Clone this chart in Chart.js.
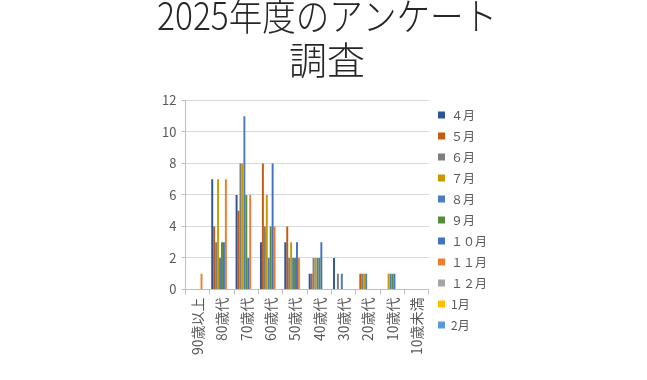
<!DOCTYPE html>
<html>
<head>
<meta charset="utf-8">
<script src="https://cdn.jsdelivr.net/npm/chart.js@4.4.1/dist/chart.umd.min.js"></script>
<style>
  html, body { margin: 0; padding: 0; background: #ffffff; }
  #wrap { position: relative; width: 647px; height: 380px; overflow: hidden; }
  canvas { display: block; }
</style>
</head>
<body>
<div id="wrap"><canvas id="c" width="647" height="380"></canvas></div>
<script>
const titleLines = ['2025年度のアンケート', '調査'];
const categories = ['90歳以上', '80歳代', '70歳代', '60歳代', '50歳代', '40歳代', '30歳代', '20歳代', '10歳代', '10歳未満'];
const seriesNames = ['４月', '５月', '６月', '７月', '８月', '９月', '１０月', '１１月', '１２月', '1月', '2月'];
const seriesColors = ['#2f5597', '#c55a11', '#7f7f7f', '#c99a00', '#4a7ebb', '#588b3c', '#4472c4', '#ed7d31', '#a5a5a5', '#ffc000', '#5b9bd5'];
const apr = [0, 7, 6, 3, 3, 1, 2, 0, 0, 0];
const may = [0, 4, 5, 8, 4, 1, 0, 1, 0, 0];
const jun = [0, 3, 8, 4, 2, 2, 1, 1, 0, 0];
const jul = [0, 7, 8, 6, 3, 2, 0, 1, 1, 0];
const aug = [0, 2, 11, 2, 2, 2, 1, 1, 1, 0];
const sep = [0, 3, 6, 4, 2, 2, 0, 0, 1, 0];
const oct = [0, 3, 2, 8, 3, 3, 0, 0, 1, 0];
const nov = [1, 7, 6, 4, 2, 0, 0, 0, 0, 0];
const dec = [0, 0, 0, 0, 0, 0, 0, 0, 0, 0];
const jan = [0, 0, 0, 0, 0, 0, 0, 0, 0, 0];
const feb = [0, 0, 0, 0, 0, 0, 0, 0, 0, 0];
const seriesValues = [apr, may, jun, jul, aug, sep, oct, nov, dec, jan, feb];
const yTicks = [0, 2, 4, 6, 8, 10, 12];

const FONT = "'Noto Sans CJK JP', 'Noto Sans', sans-serif";

const datasets = seriesNames.map((name, i) => ({
  label: name,
  data: seriesValues[i],
  backgroundColor: seriesColors[i],
  borderWidth: 0,
  categoryPercentage: 0.88,
  barPercentage: 1.0
}));

new Chart(document.getElementById('c'), {
  type: 'bar',
  data: { labels: categories, datasets: datasets },
  options: {
    responsive: false,
    animation: false,
    devicePixelRatio: 1,
    layout: { padding: { top: -6, bottom: 22, left: 157, right: 150 } },
    plugins: {
      title: {
        display: true,
        text: titleLines,
        color: '#262626',
        font: { family: FONT, size: 38, weight: '300', lineHeight: 1.15 },
        padding: { top: 0, bottom: 19 }
      },
      legend: {
        display: true,
        position: 'right',
        align: 'start',
        title: { display: true, text: ' ', font: { size: 10, lineHeight: 1.2 }, padding: { top: 94, bottom: 0 } },
        labels: {
          color: '#595959',
          font: { family: FONT, size: 12 },
          boxWidth: 7,
          boxHeight: 7,
          padding: 9
        }
      },
      tooltip: { enabled: false }
    },
    scales: {
      x: {
        ticks: {
          color: '#595959',
          font: { family: FONT, size: 14 },
          maxRotation: 90,
          minRotation: 90,
          autoSkip: false,
          padding: 3
        },
        grid: { display: true, drawOnChartArea: false, drawTicks: true, tickLength: 5, color: '#bfbfbf', offset: true },
        border: { display: true, color: '#bfbfbf' }
      },
      y: {
        min: 0,
        max: 12,
        afterBuildTicks: (axis) => { axis.ticks = yTicks.map(v => ({ value: v })); },
        ticks: {
          color: '#595959',
          font: { family: FONT, size: 13 },
          padding: 5
        },
        grid: { color: '#d9d9d9', tickColor: '#bfbfbf', tickLength: 4, drawTicks: true },
        border: { display: true, color: '#bfbfbf' }
      }
    }
  }
});
</script>
</body>
</html>
